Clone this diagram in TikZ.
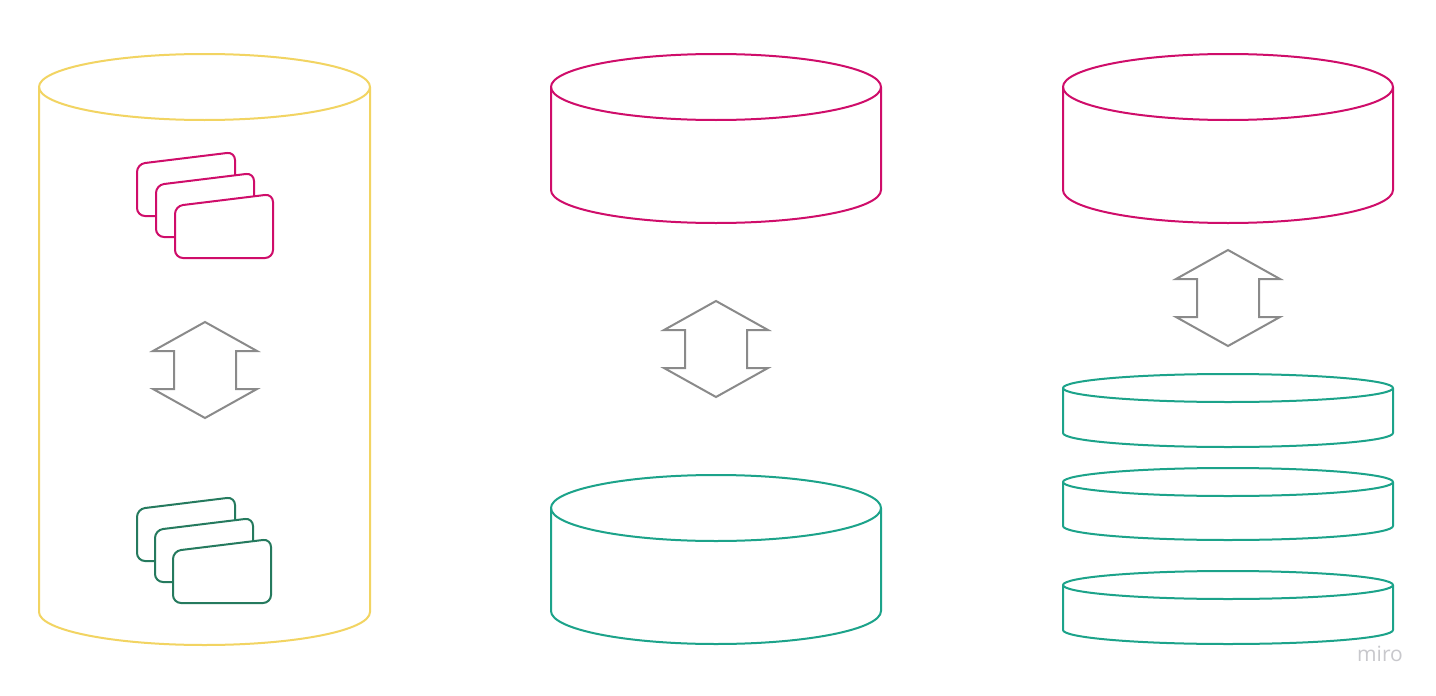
\documentclass[tikz,border=0pt]{standalone}
\usepackage{fontspec}
\setsansfont{Open Sans}
\definecolor{cylyellow}{HTML}{F2D462}
\definecolor{magentac}{HTML}{CF0D6A}
\definecolor{tealc}{HTML}{1CA38A}
\definecolor{darkgreen}{HTML}{257A5E}
\definecolor{arrowgray}{HTML}{8A8A8A}
\definecolor{logogray}{HTML}{C8C8CC}
\newcommand{\mycyl}[6]{%
  \draw[#1] ({(#2+#3)/2},#4) ellipse [x radius={(#3-#2)/2}, y radius=#6];
  \draw[#1] (#2,#4) -- (#2,#5) arc[start angle=180,end angle=0,x radius={(#3-#2)/2},y radius=#6] -- (#3,#4);}
\newcommand{\mycard}[3]{%
  \draw[#1, fill=white, rounded corners=8] (#2+49,#3) -- (#2,#3) -- (#2,#3-52) -- (#2+98,#3-64) -- (#2+98,#3) -- cycle;}
\newcommand{\myarrow}[2]{%
  \draw[arrowshape] (#1,#2) -- (#1+52,#2+29) -- (#1+31,#2+29) -- (#1+31,#2+67) -- (#1+52,#2+67) -- (#1,#2+96) -- (#1-52,#2+67) -- (#1-31,#2+67) -- (#1-31,#2+29) -- (#1-52,#2+29) -- cycle;}
\begin{document}
\begin{tikzpicture}[x=1pt,y=-1pt,
  line join=round,
  yel/.style={draw=cylyellow,line width=2},
  mag/.style={draw=magentac,line width=2},
  tea/.style={draw=tealc,line width=2},
  dgr/.style={draw=darkgreen,line width=2},
  arrowshape/.style={draw=arrowgray,line width=2,line join=miter}]
\useasboundingbox[fill=white] (0,0) rectangle (1436,696);
% left big cylinder
\mycyl{yel}{39}{370}{87}{612}{33}
\mycard{mag}{137}{216}
\mycard{mag}{156}{237}
\mycard{mag}{175}{258}
\mycard{dgr}{137}{561}
\mycard{dgr}{155}{582}
\mycard{dgr}{173}{603}
\myarrow{205}{322}
% middle
\mycyl{mag}{551}{881}{87}{190}{33}
\myarrow{716}{301}
\mycyl{tea}{551}{881}{508}{611}{33}
% right
\mycyl{mag}{1063}{1393}{87}{190}{33}
\myarrow{1228}{250}
\mycyl{tea}{1063}{1393}{388}{433}{14}
\mycyl{tea}{1063}{1393}{482}{526}{14}
\mycyl{tea}{1063}{1393}{585}{630}{14}
\node[text=logogray,font=\sffamily\fontsize{21}{21}\selectfont] (logo) at (1380,654) {miro};
\end{tikzpicture}
\end{document}
